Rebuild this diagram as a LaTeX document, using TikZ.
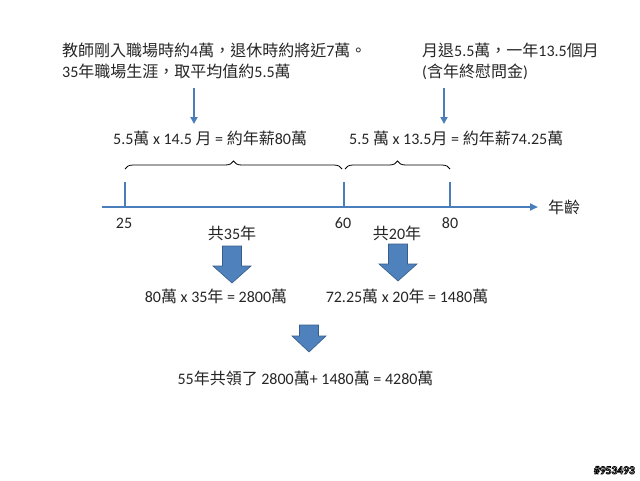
\documentclass[tikz,border=0pt]{standalone}
\usepackage{fontspec}
\setmainfont{Carlito}
\newfontfamily\cjk{Noto Sans CJK TC}
\newcommand\zh[1]{{\cjk #1}}
\newcommand\outlinetext[1]{\special{pdf:code q 2 Tr 0.7 w 1 g 0 G}#1\special{pdf:code Q}}
\usetikzlibrary{arrows.meta,decorations.pathreplacing}
\definecolor{axisblue}{RGB}{74,126,187}
\definecolor{fillblue}{RGB}{79,129,189}
\definecolor{edgeblue}{RGB}{56,93,138}
\definecolor{textc}{RGB}{38,38,38}
\tikzset{
  txt/.style={inner sep=0pt, font=\fontsize{16}{19}\selectfont, text=textc},
  thinarrow/.style={draw=axisblue, line width=2pt, -{Triangle[width=7pt,length=7pt]}},
  tick/.style={draw=axisblue, line width=2pt},
  bracestyle/.style={draw=black, line width=0.8pt, decorate, decoration={brace, amplitude=8pt}},
  blockarrow/.style={fill=fillblue, draw=edgeblue, line width=0.6pt},
  wm/.style={inner sep=0pt, font=\fontsize{11.5}{13}\selectfont\bfseries}
}
\begin{document}
\begin{tikzpicture}[x=1pt,y=-1pt]
\useasboundingbox (0,0) rectangle (640,480);
\fill[white] (0,0) rectangle (640,480);

% top texts
\node[txt, anchor=base west] (l1) at (62,56) {\zh{教師剛入職場時約}4\zh{萬，退休時約將近}7\zh{萬。}};
\node[txt, anchor=base west] (l2) at (62,77) {35\zh{年職場生涯，取平均值約}5.5\zh{萬}};
\node[txt, anchor=base west] (r1) at (422,56) {\zh{月退}5.5\zh{萬，一年}13.5\zh{個月}};
\node[txt, anchor=base west] (r2) at (422,77) {(\zh{含年終慰問金})};

% formulas
\node[txt, anchor=base west] (f1) at (113,144) {5.5\zh{萬} x 14.5 \zh{月} = \zh{約年薪}80\zh{萬}};
\node[txt, anchor=base west] (f2) at (349,144) {5.5 \zh{萬} x 13.5\zh{月} = \zh{約年薪}74.25\zh{萬}};

% thin arrows
\coordinate (a1s) at (194,88);
\coordinate (a1e) at (194,124);
\coordinate (a2s) at (444,88);
\coordinate (a2e) at (444,124);
\draw[thinarrow] (a1s) -- (a1e);
\draw[thinarrow] (a2s) -- (a2e);

% braces
\coordinate (b1s) at (125,169);
\coordinate (b1e) at (342,169);
\coordinate (b2s) at (345,169);
\coordinate (b2e) at (450,169);
\draw[bracestyle] (b1s) -- (b1e);
\draw[bracestyle] (b2s) -- (b2e);

% axis
\coordinate (ax0) at (102,207);
\coordinate (ax1) at (538,207);
\draw[draw=axisblue, line width=2pt, -{Triangle[width=7pt,length=8pt]}] (ax0) -- (ax1);
\coordinate (t25) at (125,207);
\coordinate (t60) at (344,207);
\coordinate (t80) at (450,207);
\draw[tick] (t25) -- ++(0,-25);
\draw[tick] (t60) -- ++(0,-25);
\draw[tick] (t80) -- ++(0,-25);
\node[txt, anchor=base west] (age) at (548,213) {\zh{年齡}};

\node[txt, anchor=base] (n25) at (124,228) {25};
\node[txt, anchor=base] (n60) at (343,228) {60};
\node[txt, anchor=base] (n80) at (450,228) {80};

\node[txt, anchor=base] (y35) at (232,239) {\zh{共}35\zh{年}};
\node[txt, anchor=base] (y20) at (397,239) {\zh{共}20\zh{年}};

% block arrows
\draw[blockarrow] (222.5,246) -- (241.5,246) -- (241.5,266) -- (251,266) -- (232,283) -- (213,266) -- (222.5,266) -- cycle;
\draw[blockarrow] (388.5,244) -- (407.5,244) -- (407.5,264) -- (417,264) -- (398,281) -- (379,264) -- (388.5,264) -- cycle;

\node[txt, anchor=base] (res1) at (216,302) {80\zh{萬} x 35\zh{年} = 2800\zh{萬}};
\node[txt, anchor=base] (res2) at (407,302) {72.25\zh{萬} x 20\zh{年} = 1480\zh{萬}};

\draw[blockarrow] (299.5,325) -- (318.5,325) -- (318.5,336) -- (326,336) -- (309,352) -- (292,336) -- (299.5,336) -- cycle;

\node[txt, anchor=base] (fin) at (305.5,384) {55\zh{年共領了} 2800\zh{萬}+ 1480\zh{萬} = 4280\zh{萬}};

% watermark
\node[wm, anchor=base east] (wmk) at (635,474) {\outlinetext{\#953493}};
\end{tikzpicture}
\end{document}
